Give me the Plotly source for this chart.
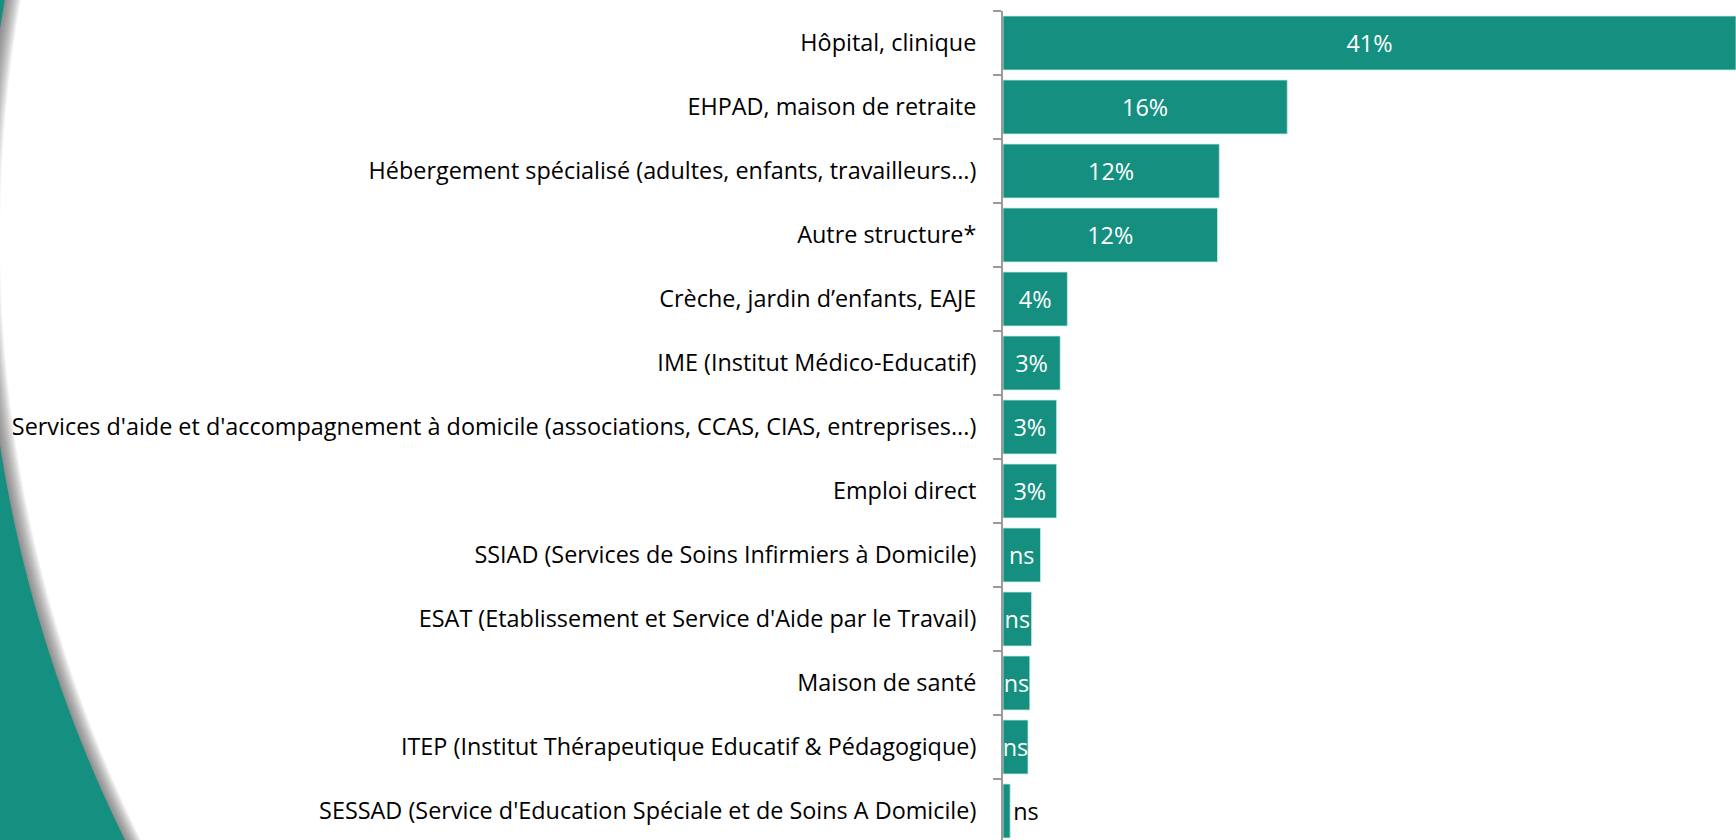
import numpy as np
import plotly.graph_objects as go

categories = [
    "Hôpital, clinique",
    "EHPAD, maison de retraite",
    "Hébergement spécialisé (adultes, enfants, travailleurs…)",
    "Autre structure*",
    "Crèche, jardin d’enfants, EAJE",
    "IME (Institut Médico-Educatif)",
    "Services d'aide et d'accompagnement à domicile (associations, CCAS, CIAS, entreprises...)",
    "Emploi direct",
    "SSIAD (Services de Soins Infirmiers à Domicile)",
    "ESAT (Etablissement et Service d'Aide par le Travail)",
    "Maison de santé",
    "ITEP (Institut Thérapeutique Educatif & Pédagogique)",
    "SESSAD (Service d'Education Spéciale et de Soins A Domicile)",
]
values = [41.0, 15.9, 12.1, 12.0, 3.6, 3.2, 3.0, 3.0, 2.1, 1.6, 1.5, 1.4, 0.4]
value_labels = ["41%", "16%", "12%", "12%", "4%", "3%", "3%", "3%", "ns", "ns", "ns", "ns", "ns"]
label_positions = ["inside"] * 12 + ["outside"]

TEAL = "rgb(21,143,127)"
FONT = "Open Sans"
FS = 23.4

W, H = 1736, 840
L, R, T, B = 1003, 0, 11, 0
PW, PH = W - L - R, H - T - B
CAT_PX = 64.0

def px2paper(x, y):
    return (x - L) / PW, 1 - (y - T) / PH

def path_from(points):
    pts = [px2paper(x, y) for x, y in points]
    return "M " + " L ".join(f"{a:.5f},{b:.5f}" for a, b in pts) + " Z"

# decorative curved band on the left (circle arc)
cx, cy, rad = -16 + 1360, 237, 1360
ys = np.linspace(-20, 860, 120)
xs = cx - np.sqrt(rad ** 2 - (ys - cy) ** 2)
arc = list(zip(xs, ys))

shapes = []
n_sh = 16
for k in range(n_sh, 0, -1):
    pts = [(x + k, y) for x, y in arc] + [(-100, 860), (-100, -20)]
    shapes.append(dict(type="path", xref="paper", yref="paper", path=path_from(pts),
                       fillcolor="rgba(90,90,90,0.06)", line=dict(width=0), layer="below"))
pts = arc + [(-100, 860), (-100, -20)]
shapes.append(dict(type="path", xref="paper", yref="paper", path=path_from(pts),
                   fillcolor=TEAL, line=dict(width=0), layer="below"))

fig = go.Figure(go.Bar(
    x=values,
    y=categories,
    orientation="h",
    marker=dict(color=TEAL, line=dict(color="rgba(200,235,230,0.8)", width=1)),
    text=value_labels,
    textposition=label_positions,
    insidetextanchor="middle",
    constraintext="none",
    textangle=0,
    insidetextfont=dict(family=FONT, size=FS, color="white"),
    outsidetextfont=dict(family=FONT, size=FS, color="black"),
    cliponaxis=False,
    hoverinfo="skip",
))

fig.update_layout(
    width=W, height=H,
    margin=dict(l=L, r=R, t=T, b=B, pad=0),
    paper_bgcolor="white",
    plot_bgcolor="white",
    bargap=10 / 64,
    showlegend=False,
    shapes=shapes,
    font=dict(family=FONT, size=FS, color="black"),
    hovermode=False,
)
fig.update_xaxes(range=[0, 41], visible=False, fixedrange=True)
fig.update_yaxes(
    type="category",
    categoryorder="array",
    categoryarray=categories,
    range=[-0.5 + PH / CAT_PX, -0.5],
    tickson="boundaries",
    ticks="outside",
    ticklen=8,
    tickwidth=2,
    tickcolor="#9a9a9a",
    showline=True,
    linecolor="#9a9a9a",
    linewidth=2,
    showgrid=False,
    ticklabelstandoff=20,
    tickfont=dict(family=FONT, size=FS, color="black"),
    automargin=False,
    fixedrange=True,
)

fig.write_html(
    "out.html",
    config={"displayModeBar": False, "staticPlot": True},
    post_script="document.body.style.margin='0px';document.body.style.overflow='hidden';",
)
